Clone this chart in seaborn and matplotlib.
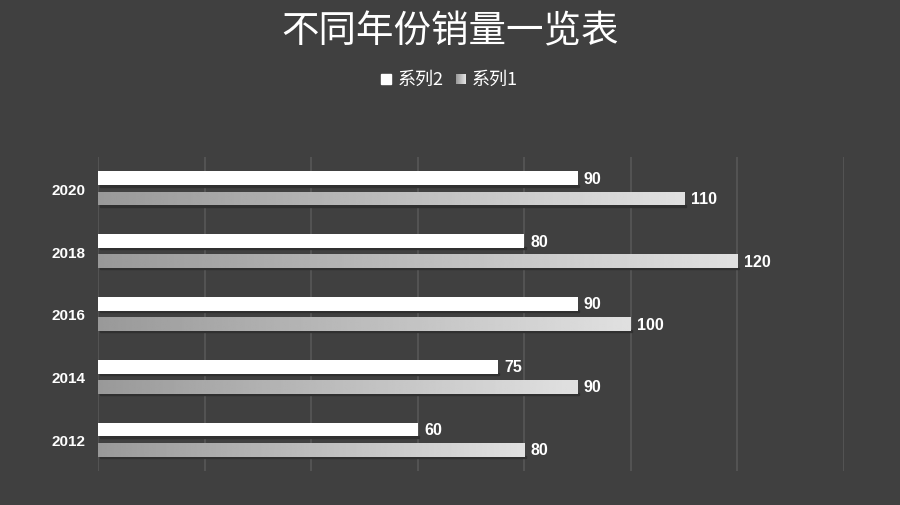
import numpy as np
import pandas as pd
import seaborn as sns
import matplotlib.pyplot as plt
from matplotlib.patches import Rectangle

# 数据
years = ['2020', '2018', '2016', '2014', '2012']
series2 = [90, 80, 90, 75, 60]
series1 = [110, 120, 100, 90, 80]

df = pd.DataFrame({
    'year': years * 2,
    'value': series2 + series1,
    'series': ['系列2'] * len(years) + ['系列1'] * len(years),
})

bg = '#404040'
sns.set_theme(style='dark')
plt.rcParams['font.family'] = ['Noto Sans CJK SC', 'DejaVu Sans']

fig = plt.figure(figsize=(9, 5.06), dpi=100, facecolor=bg)
ax = fig.add_axes([98 / 900, 34 / 506, 746 / 900, 314 / 506])
ax.set_facecolor(bg)

sns.barplot(data=df, x='value', y='year', hue='series', order=years,
            hue_order=['系列2', '系列1'], palette=['white', '#c8c8c8'],
            orient='h', width=0.64, ax=ax, legend=False, saturation=1)

ax.set_xlim(0, 140)
ax.set_xticks(np.arange(0, 141, 20))
ax.set_xticklabels([])
ax.grid(axis='x', color='#585858', lw=1.2)
ax.grid(axis='y', visible=False)
ax.tick_params(axis='x', length=0)
ax.tick_params(axis='y', length=0, pad=9)
for lab in ax.get_yticklabels():
    lab.set_color('white')
    lab.set_fontweight('bold')
    lab.set_fontsize(11)
    lab.set_family('Liberation Sans')
ax.set_xlabel('')
ax.set_ylabel('')
for s in ax.spines.values():
    s.set_visible(False)

# 渐变
grad = np.linspace(0.6, 0.88, 256).reshape(1, -1)
n = len(years)
for i, p in enumerate(ax.patches):
    if p.get_width() == 0:
        continue
    yc = p.get_y() + p.get_height() / 2
    h = 0.22
    p.set_y(yc - h / 2)
    p.set_height(h)
    p.set_edgecolor('none')
    w = p.get_width()
    # 阴影
    sh = Rectangle((0.3, yc + h / 2 - 0.01), w, 0.03, color='#303030', zorder=p.get_zorder() - 0.1)
    ax.add_patch(sh)
    ax.text(w + 1.2, yc, f'{w:.0f}', color='white', fontsize=11.5, fontweight='bold',
            va='center', ha='left', family='Liberation Sans')
    if i >= n:
        im = ax.imshow(np.array(grad), cmap='gray', vmin=0, vmax=1, aspect='auto',
                       extent=(0, w, yc + h / 2, yc - h / 2), zorder=p.get_zorder() + 0.1,
                       interpolation='bilinear')
        im.set_clip_path(p)

ax.set_xlim(0, 140)
ax.set_ylim(n - 0.5, -0.5)

fig.text(0.5, 1 - 32 / 506, '不同年份销量一览表', color='white', fontsize=27, ha='center', va='center')

# 图例
lx = 381 / 900
fig.patches.append(Rectangle((lx, 1 - 85 / 506), 10 / 900, 10 / 506, transform=fig.transFigure,
                             color='white'))
fig.text(lx + 17 / 900, 1 - 80 / 506, '系列2', color='white', fontsize=13, va='center', ha='left')
lx2 = 456 / 900
legax = fig.add_axes([lx2, 1 - 85 / 506, 10 / 900, 10 / 506])
legax.imshow(np.linspace(0.6, 0.9, 64).reshape(1, -1), cmap='gray', vmin=0, vmax=1, aspect='auto')
legax.axis('off')
fig.text(lx2 + 16 / 900, 1 - 80 / 506, '系列1', color='white', fontsize=13, va='center', ha='left')

fig.savefig('out.png', dpi=100, facecolor=bg)
